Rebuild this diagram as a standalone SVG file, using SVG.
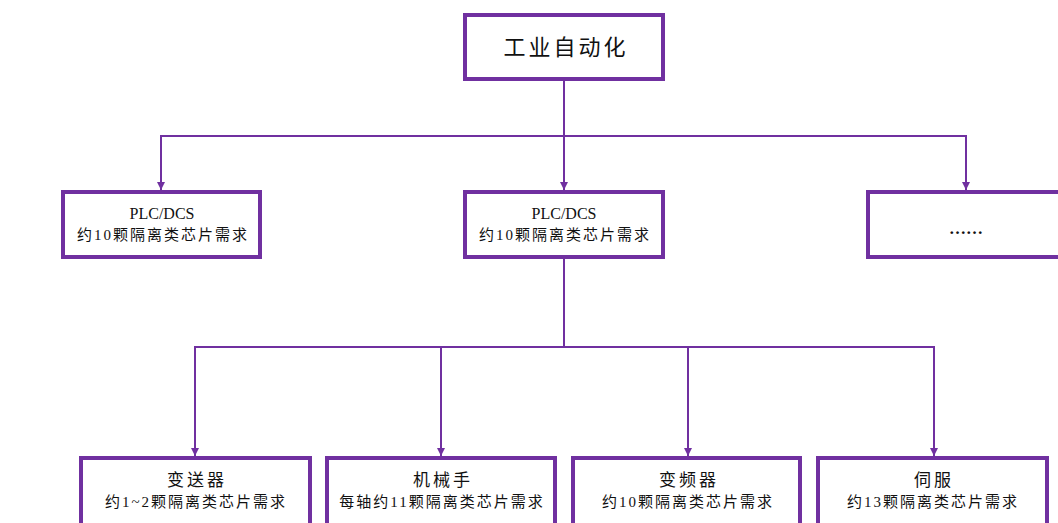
<svg xmlns="http://www.w3.org/2000/svg" width="1058" height="523" viewBox="0 0 1058 523">
<style>
.box{fill:#fff;stroke:#7030A0;stroke-width:4}
.con{fill:none;stroke:#7030A0;stroke-width:2}
text{font-family:"Liberation Serif","Noto Sans CJK SC",serif;fill:#111;text-anchor:middle}
.t1{font-size:22px;letter-spacing:3px}
.t2{font-size:15px;letter-spacing:2px}
.lat{font-size:16px;letter-spacing:0}
.t3{font-size:17px;letter-spacing:3px}
</style>
<defs>
<marker id="arr" viewBox="0 0 10 10" refX="10" refY="5" markerWidth="8" markerHeight="8" markerUnits="userSpaceOnUse" orient="auto">
<path d="M0,0 L10,5 L0,10 Z" fill="#7030A0"/>
</marker>
</defs>
<rect width="1058" height="523" fill="#fff"/>
<g id="connectors">
<path class="con" d="M564,80 V190" marker-end="url(#arr)"/>
<path class="con" d="M564,136 H161 V190" marker-end="url(#arr)"/>
<path class="con" d="M564,136 H966 V190" marker-end="url(#arr)"/>
<path class="con" d="M564,258 V347"/>
<path class="con" d="M564,347 H195 V456" marker-end="url(#arr)"/>
<path class="con" d="M441,347 V456" marker-end="url(#arr)"/>
<path class="con" d="M564,347 H934 V456" marker-end="url(#arr)"/>
<path class="con" d="M688,347 V456" marker-end="url(#arr)"/>
</g>
<g id="n-root">
<rect class="box" x="465" y="15" width="198" height="64"/>
<text class="t1" x="566" y="55">工业自动化</text>
</g>
<g id="n-plc1">
<rect class="box" x="63" y="192" width="197" height="65"/>
<text class="lat" x="162" y="219">PLC/DCS</text>
<text class="t2" x="163" y="240">约10颗隔离类芯片需求</text>
</g>
<g id="n-plc2">
<rect class="box" x="465" y="192" width="198" height="65"/>
<text class="lat" x="564" y="219">PLC/DCS</text>
<text class="t2" x="565" y="240">约10颗隔离类芯片需求</text>
</g>
<g id="n-more">
<rect class="box" x="868" y="192" width="200" height="65"/>
<text x="966" y="234" style="font-size:17px;font-weight:bold">……</text>
</g>
<g id="n-bsq">
<rect class="box" x="81" y="458" width="229" height="70"/>
<text class="t3" x="197" y="486">变送器</text>
<text class="t2" x="196" y="507">约1~2颗隔离类芯片需求</text>
</g>
<g id="n-jxs">
<rect class="box" x="327" y="458" width="228" height="70"/>
<text class="t3" x="443" y="486">机械手</text>
<text class="t2" x="442" y="507">每轴约11颗隔离类芯片需求</text>
</g>
<g id="n-bpq">
<rect class="box" x="573" y="458" width="227" height="70"/>
<text class="t3" x="689" y="486">变频器</text>
<text class="t2" x="688" y="507">约10颗隔离类芯片需求</text>
</g>
<g id="n-sf">
<rect class="box" x="818" y="458" width="229" height="70"/>
<text class="t3" x="934" y="486">伺服</text>
<text class="t2" x="933" y="507">约13颗隔离类芯片需求</text>
</g>
</svg>
